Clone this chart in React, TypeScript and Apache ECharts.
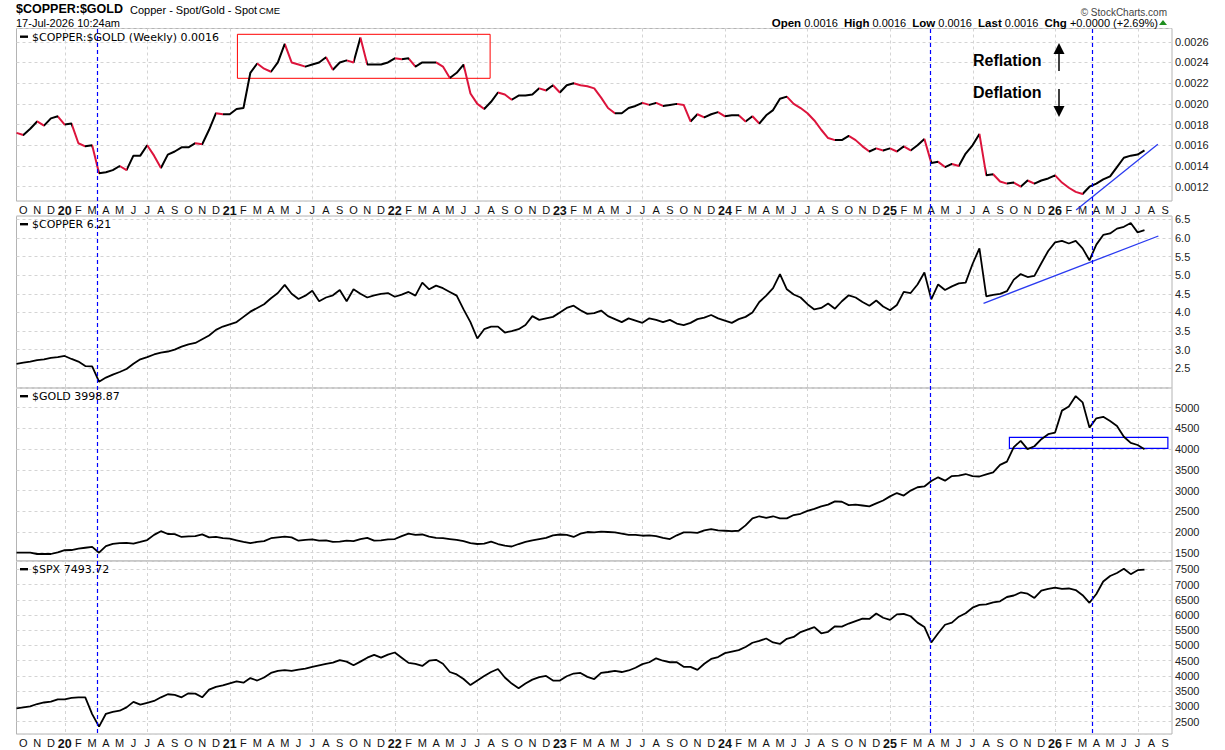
import React, { useEffect, useRef } from 'react';
import * as echarts from 'echarts';

// Samples every half month; position 0 = 1 Oct 2019 (months after it)
const FIRST_MONTH = -0.5;
const STEP_MONTHS = 0.5;

const ratioValues = [
  0.00172, 0.00170, 0.00176, 0.00183, 0.00179, 0.00186, 0.00188, 0.00180, 0.00181, 0.00162,
  0.00159, 0.00160, 0.00133, 0.00134, 0.00136, 0.00140, 0.00136, 0.00150, 0.00150, 0.00160,
  0.00150, 0.00138, 0.00151, 0.00154, 0.00158, 0.00158, 0.00162, 0.00161, 0.00175, 0.00191,
  0.00190, 0.00190, 0.00195, 0.00196, 0.00230, 0.00239, 0.00234, 0.00231, 0.00240, 0.00258,
  0.00240, 0.00238, 0.00236, 0.00238, 0.00240, 0.00245, 0.00233, 0.00240, 0.00242, 0.00240,
  0.00264, 0.00238, 0.00238, 0.00238, 0.00240, 0.00244, 0.00243, 0.00244, 0.00236, 0.00240,
  0.00240, 0.00240, 0.00236, 0.00225, 0.00230, 0.00238, 0.00210, 0.00200, 0.00195, 0.00202,
  0.00211, 0.00209, 0.00204, 0.00208, 0.00208, 0.00209, 0.00215, 0.00213, 0.00218, 0.00211,
  0.00218, 0.00220, 0.00218, 0.00217, 0.00215, 0.00206, 0.00196, 0.00191, 0.00191, 0.00196,
  0.00198, 0.00201, 0.00199, 0.00201, 0.00198, 0.00199, 0.00200, 0.00199, 0.00183, 0.00190,
  0.00187, 0.00190, 0.00192, 0.00188, 0.00189, 0.00189, 0.00183, 0.00188, 0.00181, 0.00189,
  0.00194, 0.00205, 0.00207, 0.00200, 0.00196, 0.00191, 0.00184, 0.00175, 0.00167, 0.00165,
  0.00165, 0.00169, 0.00165, 0.00159, 0.00154, 0.00157, 0.00155, 0.00157, 0.00154, 0.00159,
  0.00155, 0.00160, 0.00166, 0.00143, 0.00144, 0.00139, 0.00142, 0.00140, 0.00152, 0.00160,
  0.00171, 0.00131, 0.00132, 0.00125, 0.00123, 0.00124, 0.00120, 0.00126, 0.00123, 0.00126,
  0.00128, 0.00131, 0.00124, 0.00119, 0.00115, 0.00113, 0.00120, 0.00123, 0.00127, 0.00130,
  0.00139, 0.00148, 0.00150, 0.00151, 0.00155,
];

const copperValues = [
  2.62, 2.65, 2.68, 2.72, 2.74, 2.78, 2.80, 2.83, 2.75, 2.68,
  2.56, 2.55, 2.14, 2.25, 2.33, 2.40, 2.48, 2.62, 2.74, 2.80,
  2.87, 2.92, 2.95, 3.00, 3.08, 3.14, 3.18, 3.28, 3.38, 3.53,
  3.62, 3.68, 3.74, 3.88, 4.02, 4.12, 4.22, 4.38, 4.52, 4.74,
  4.50, 4.36, 4.45, 4.58, 4.30, 4.40, 4.46, 4.60, 4.30, 4.62,
  4.50, 4.40, 4.46, 4.50, 4.52, 4.42, 4.48, 4.55, 4.45, 4.80,
  4.62, 4.72, 4.65, 4.55, 4.45, 4.08, 3.74, 3.30, 3.55, 3.62,
  3.62, 3.46, 3.50, 3.55, 3.66, 3.90, 3.80, 3.84, 3.88, 4.00,
  4.12, 4.18, 4.06, 3.96, 3.98, 4.05, 3.90, 3.82, 3.74, 3.84,
  3.78, 3.72, 3.84, 3.80, 3.74, 3.80, 3.70, 3.66, 3.72, 3.82,
  3.86, 3.93, 3.84, 3.78, 3.72, 3.82, 3.88, 4.00, 4.28, 4.45,
  4.65, 5.03, 4.62, 4.48, 4.40, 4.22, 4.08, 4.12, 4.24, 4.10,
  4.30, 4.46, 4.40, 4.28, 4.18, 4.32, 4.16, 4.06, 4.20, 4.55,
  4.52, 4.75, 5.07, 4.35, 4.75, 4.60, 4.70, 4.78, 4.80, 5.30,
  5.72, 4.43, 4.47, 4.50, 4.57, 4.88, 5.03, 4.95, 4.98, 5.32,
  5.65, 5.88, 5.92, 5.85, 5.92, 5.72, 5.40, 5.82, 6.08, 6.12,
  6.25, 6.30, 6.40, 6.15, 6.21,
];

const goldValues = [
  1500, 1500, 1500, 1469, 1469, 1469, 1510, 1560, 1565, 1600,
  1620, 1640, 1500, 1660, 1712, 1730, 1735, 1718, 1760, 1805,
  1930, 2020, 1952, 1950, 1880, 1895, 1900, 1944, 1870, 1880,
  1850, 1840, 1800, 1760, 1730, 1760, 1780, 1850, 1870, 1890,
  1870, 1790, 1810, 1820, 1790, 1800, 1760, 1770, 1790, 1780,
  1830, 1860, 1790, 1800, 1820, 1830, 1900, 1960, 1930, 1940,
  1890, 1860, 1850, 1830, 1810, 1780, 1730, 1710, 1720, 1770,
  1710, 1670, 1650, 1710, 1760, 1800, 1830, 1860, 1920, 1940,
  1930, 1880, 1960, 2000, 1990, 2010, 2000, 1990, 1960, 1930,
  1930, 1910, 1920, 1900, 1860, 1830, 1920, 1990, 1990, 1980,
  2040, 2070, 2040, 2030, 2020, 2030, 2160, 2330, 2380, 2340,
  2380, 2330, 2330, 2410, 2440, 2510, 2560, 2620, 2660, 2740,
  2730, 2650, 2660, 2640, 2620, 2690, 2760, 2860, 2940, 2880,
  3000, 3080, 3100, 3230, 3320, 3240, 3350, 3360, 3400, 3350,
  3340, 3390, 3440, 3620, 3700, 4050, 4200, 4000, 4070, 4240,
  4360, 4400, 4930, 5030, 5280, 5130, 4520, 4745, 4780, 4680,
  4560, 4300, 4150, 4100, 3999,
];

const spxValues = [
  2940, 2970, 3000, 3080, 3130, 3156, 3230, 3234, 3280, 3300,
  3300, 2750, 2340, 2760, 2820, 2860, 2970, 3150, 3060, 3120,
  3180, 3300, 3400, 3380, 3300, 3430, 3420, 3300, 3550, 3640,
  3690, 3760, 3820, 3780, 3930, 3850, 3950, 4100, 4170, 4190,
  4170, 4210, 4240, 4300, 4350, 4400, 4440, 4520, 4470, 4350,
  4470, 4600, 4690, 4600, 4700, 4770, 4600, 4430, 4400, 4330,
  4500, 4530, 4400, 4130, 4050, 3900, 3700, 3850, 4000, 4130,
  4230, 3950, 3750, 3600, 3750, 3880, 3960, 4000, 3850, 3850,
  3990, 4080, 4100, 3970, 3900, 4100, 4130, 4170, 4130, 4180,
  4270, 4390, 4450, 4580, 4500, 4450, 4450, 4300, 4300, 4200,
  4400, 4560, 4620, 4750, 4800, 4850, 4950, 5090, 5150, 5230,
  5100, 5050, 5220, 5280, 5440, 5520, 5600, 5400, 5450, 5630,
  5620, 5720, 5800, 5880, 5870, 6050, 5910, 5840, 6020, 6040,
  5960, 5750, 5610, 5100, 5400, 5680, 5750, 5945, 6060, 6240,
  6330, 6350, 6417, 6450, 6591, 6640, 6740, 6700, 6560, 6800,
  6860, 6900, 6860, 6870, 6820, 6650, 6400, 6690, 7100, 7280,
  7380, 7520, 7340, 7470, 7490,
];

const monthLetters = ['J', 'F', 'M', 'A', 'M', 'J', 'J', 'A', 'S', 'O', 'N', 'D'];
const eventMonths = [5.35, 65.93, 77.67];
const gridMonths = [3, 9, 15, 21, 27, 33, 39, 45, 51, 57, 63, 69, 75, 81];

const ratioBox = [[15.56, 0.002672], [33.93, 0.002247]];
const goldBox = [[71.68, 4286], [83.2, 4020]];
const ratioTrend = [[76.53, 0.000975], [82.47, 0.00161]];
const copperTrend = [[69.8, 4.245], [82.51, 6.052]];

const panelTitles = ['$COPPER:$GOLD (Weekly) 0.0016', '$COPPER 6.21', '$GOLD 3998.87', '$SPX 7493.72'];

const UP = '#000000';
const DOWN = '#dc143c';
const BLUE = '#0000ff';
const TREND = '#2a3af0';
const FONT = '"Liberation Sans", Arial, sans-serif';
const LEFT = 16.5;
const RIGHT_EDGE = 1172;

const PANELS = [
  { top: 28.5, height: 172.5, min: 0.001062, max: 0.002728, split: 8, fmt: (v: number) => v.toFixed(4) },
  { top: 216, height: 172, min: 1.97, max: 6.589, split: 9, fmt: (v: number) => (v < 2.25 ? '' : v.toFixed(1)) },
  { top: 388, height: 173, min: 1300, max: 5476, split: 8, fmt: (v: number) => String(Math.round(v)) },
  { top: 561, height: 173, min: 2096, max: 7772, split: 11, fmt: (v: number) => String(Math.round(v)) },
];

const xAt = (i: number) => FIRST_MONTH + STEP_MONTHS * i;
const pairs = (vals: number[]) => vals.map((v, i) => [xAt(i), v]);

function monthLabel(v: number) {
  const m = Math.round(v);
  if (Math.abs(v - m) > 1e-6) return '';
  const total = m + 9;
  const mo = ((total % 12) + 12) % 12;
  if (mo === 0) return '{y|' + String(2019 + Math.floor(total / 12)).slice(2) + '}';
  return monthLetters[mo];
}

function directionPieces(vals: number[]) {
  const pieces: any[] = [];
  let start = 0;
  for (let i = 1; i < vals.length; i++) {
    const up = vals[i] >= vals[i - 1];
    const nextUp = i + 1 < vals.length ? vals[i + 1] >= vals[i] : null;
    if (nextUp !== up) {
      pieces.push({
        gte: start === 0 ? xAt(0) - 1 : xAt(start),
        lt: i + 1 < vals.length ? xAt(i) : xAt(i) + 1,
        color: up ? UP : DOWN,
      });
      start = i;
    }
  }
  return pieces;
}

export default function App() {
  const ref = useRef<HTMLDivElement>(null);

  useEffect(() => {
    if (!ref.current) return;
    const chart = echarts.init(ref.current, null, { renderer: 'svg' });

    const option: any = {
      animation: false,
      backgroundColor: '#ffffff',
      textStyle: { fontFamily: FONT },
      grid: PANELS.map((p) => ({
        left: LEFT,
        top: p.top,
        width: RIGHT_EDGE - LEFT,
        height: p.height,
        show: true,
        borderColor: '#b4b4b4',
        borderWidth: 1,
        backgroundColor: 'rgba(0,0,0,0)',
        containLabel: false,
        outerBoundsMode: 'none',
      })),
      xAxis: PANELS.map((p, i) => ({
        type: 'value',
        gridIndex: i,
        min: -0.5,
        max: 83.5,
        interval: 0.5,
        axisLine: { show: false },
        axisTick: { show: false },
        splitLine: { show: false },
        axisLabel: {
          show: i === 0 || i === 3,
          formatter: monthLabel,
          fontSize: 11,
          color: '#111',
          margin: 3,
          fontFamily: FONT,
          hideOverlap: false,
          rich: { y: { fontWeight: 'bold', fontSize: 12.5, color: '#111', fontFamily: FONT } },
        },
      })),
      yAxis: PANELS.map((p, i) => ({
        type: 'value',
        gridIndex: i,
        position: 'right',
        min: p.min,
        max: p.max,
        splitNumber: p.split,
        axisLine: { show: false },
        axisTick: { show: false },
        axisLabel: {
          formatter: p.fmt,
          showMinLabel: false,
          showMaxLabel: false,
          fontSize: 11,
          color: '#222',
          margin: 3,
          fontFamily: FONT,
        },
        splitLine: { show: true, lineStyle: { color: '#d4d4d4', type: [3, 3], width: 1 } },
      })),
      visualMap: [
        {
          type: 'piecewise',
          show: false,
          dimension: 0,
          seriesIndex: 0,
          pieces: directionPieces(ratioValues),
          outOfRange: { color: UP },
        },
      ],
      series: [
        {
          type: 'line',
          xAxisIndex: 0,
          yAxisIndex: 0,
          data: pairs(ratioValues),
          symbol: 'none',
          showSymbol: false,
          lineStyle: { width: 2 },
          z: 3,
          markArea: {
            silent: true,
            label: { show: false },
            itemStyle: { color: 'rgba(0,0,0,0)', borderColor: '#ff0000', borderWidth: 1 },
            data: [[{ xAxis: ratioBox[0][0], yAxis: ratioBox[0][1] }, { xAxis: ratioBox[1][0], yAxis: ratioBox[1][1] }]],
          },
        },
        {
          type: 'line',
          xAxisIndex: 1,
          yAxisIndex: 1,
          data: pairs(copperValues),
          symbol: 'none',
          showSymbol: false,
          lineStyle: { width: 1.8, color: '#000' },
          z: 3,
        },
        {
          type: 'line',
          xAxisIndex: 2,
          yAxisIndex: 2,
          data: pairs(goldValues),
          symbol: 'none',
          showSymbol: false,
          lineStyle: { width: 1.8, color: '#000' },
          z: 3,
          markArea: {
            silent: true,
            label: { show: false },
            itemStyle: { color: 'rgba(0,0,0,0)', borderColor: BLUE, borderWidth: 1.2 },
            data: [[{ xAxis: goldBox[0][0], yAxis: goldBox[0][1] }, { xAxis: goldBox[1][0], yAxis: goldBox[1][1] }]],
          },
        },
        {
          type: 'line',
          xAxisIndex: 3,
          yAxisIndex: 3,
          data: pairs(spxValues),
          symbol: 'none',
          showSymbol: false,
          lineStyle: { width: 1.8, color: '#000' },
          z: 3,
        },
        {
          type: 'line',
          xAxisIndex: 0,
          yAxisIndex: 0,
          data: ratioTrend,
          symbol: 'none',
          showSymbol: false,
          clip: false,
          lineStyle: { width: 1.3, color: TREND },
          z: 4,
        },
        {
          type: 'line',
          xAxisIndex: 1,
          yAxisIndex: 1,
          data: copperTrend,
          symbol: 'none',
          showSymbol: false,
          clip: false,
          lineStyle: { width: 1.3, color: TREND },
          z: 4,
        },
      ],
    };

    chart.setOption(option);

    const px = (m: number) => chart.convertToPixel({ xAxisIndex: 0 } as any, m) as number;
    const g: any[] = [];

    gridMonths.forEach((m) => {
      const x = Math.round(px(m)) + 0.5;
      PANELS.forEach((p) => {
        g.push({
          type: 'line',
          silent: true,
          z: 0,
          shape: { x1: x, y1: p.top, x2: x, y2: p.top + p.height },
          style: { stroke: '#d4d4d4', lineWidth: 1, lineDash: [3, 3] },
        });
      });
    });

    eventMonths.forEach((m) => {
      const x = Math.round(px(m)) + 0.5;
      g.push({
        type: 'line',
        silent: true,
        z: 50,
        shape: { x1: x, y1: 29, x2: x, y2: 734 },
        style: { stroke: BLUE, lineWidth: 1.2, lineDash: [4, 3] },
      });
    });

    const text = (x: number, y: number, t: string, extra: any = {}) => ({
      type: 'text',
      x,
      y,
      silent: true,
      z: 60,
      style: {
        text: t,
        fill: '#000',
        fontSize: 11,
        fontFamily: FONT,
        textAlign: 'left',
        align: 'left',
        textVerticalAlign: 'middle',
        verticalAlign: 'middle',
        ...extra,
      },
    });

    PANELS.forEach((p, i) => {
      g.push({ type: 'rect', silent: true, z: 60, shape: { x: 20, y: p.top + 7, width: 8, height: 2.4 }, style: { fill: '#000' } });
      g.push(text(32, p.top + 8.5, panelTitles[i], { fontFamily: '"DejaVu Sans", Verdana, sans-serif', fontSize: 11 }));
    });

    // header
    g.push(text(16, 9, '$COPPER:$GOLD', { fontWeight: 'bold', fontSize: 12.5 }));
    g.push(text(130, 10, 'Copper - Spot/Gold - Spot', { fontSize: 11 }));
    g.push(text(259, 10.5, 'CME', { fontSize: 9.5 }));
    g.push(text(16, 23, '17-Jul-2026 10:24am', { fontSize: 11 }));
    g.push(
      text(1158, 22.5, '{b|Open} 0.0016  {b|High} 0.0016  {b|Low} 0.0016  {b|Last} 0.0016  {b|Chg} +0.0000 (+2.69%)', {
        textAlign: 'right',
        align: 'right',
        fontSize: 11,
        rich: { b: { fontWeight: 'bold', fontSize: 11.5, fontFamily: FONT } },
      })
    );
    g.push({ type: 'polygon', silent: true, z: 60, shape: { points: [[1159, 25], [1167, 25], [1163, 20]] }, style: { fill: '#1f8f1f' } });
    g.push(text(1167, 12, '\u00A9 StockCharts.com', { textAlign: 'right', align: 'right', fontSize: 10, fill: '#444' }));

    // annotations
    g.push(text(973, 60.5, 'Reflation', { fontWeight: 'bold', fontSize: 16 }));
    g.push(text(973, 92.5, 'Deflation', { fontWeight: 'bold', fontSize: 16 }));
    g.push({ type: 'line', silent: true, z: 60, shape: { x1: 1059, y1: 71, x2: 1059, y2: 53 }, style: { stroke: '#000', lineWidth: 1.5 } });
    g.push({ type: 'polygon', silent: true, z: 60, shape: { points: [[1053.5, 54], [1064.5, 54], [1059, 43]] }, style: { fill: '#000' } });
    g.push({ type: 'line', silent: true, z: 60, shape: { x1: 1059, y1: 89, x2: 1059, y2: 107 }, style: { stroke: '#000', lineWidth: 1.5 } });
    g.push({ type: 'polygon', silent: true, z: 60, shape: { points: [[1053.5, 106], [1064.5, 106], [1059, 117]] }, style: { fill: '#000' } });

    chart.setOption({ graphic: { elements: g } });

    return () => {
      chart.dispose();
    };
  }, []);

  return (
    <div
      ref={ref}
      style={{ position: 'absolute', left: 0, top: 0, width: 1225, height: 750, background: '#fff' }}
    />
  );
}
